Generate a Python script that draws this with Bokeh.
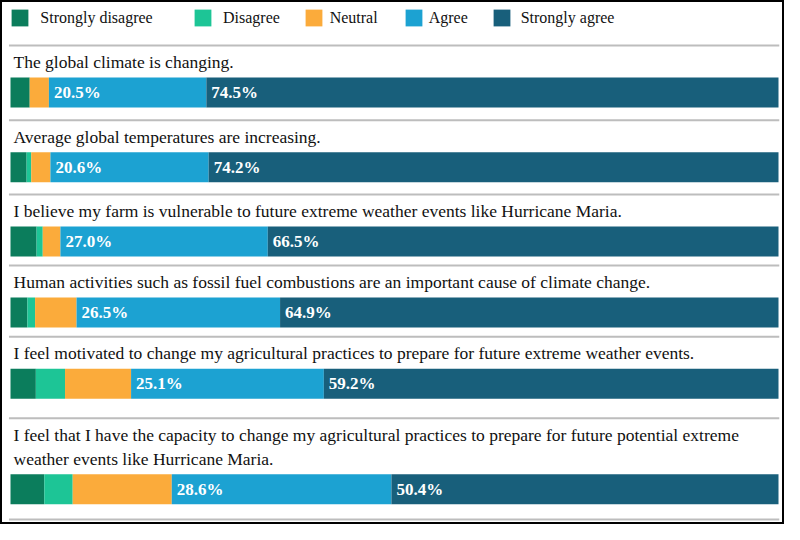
from bokeh.plotting import figure
from bokeh.models import ColumnDataSource, Range1d, Legend, LegendItem
from bokeh.core.properties import value
from bokeh.embed import file_html
from bokeh.resources import INLINE

# ---------------- data ----------------
questions = [
    "The global climate is changing.",
    "Average global temperatures are increasing.",
    "I believe my farm is vulnerable to future extreme weather events like Hurricane Maria.",
    "Human activities such as fossil fuel combustions are an important cause of climate change.",
    "I feel motivated to change my agricultural practices to prepare for future extreme weather events.",
    "I feel that I have the capacity to change my agricultural practices to prepare for future potential extreme\nweather events like Hurricane Maria.",
]
categories = ["Strongly disagree", "Disagree", "Neutral", "Agree", "Strongly agree"]
strongly_disagree = [2.5, 2.1, 3.4, 2.2, 3.3, 4.4]
disagree = [0.0, 0.6, 0.8, 1.0, 3.8, 3.7]
neutral = [2.5, 2.5, 2.3, 5.4, 8.6, 12.9]
agree = [20.5, 20.6, 27.0, 26.5, 25.1, 28.6]
strongly_agree = [74.5, 74.2, 66.5, 64.9, 59.2, 50.4]
colors = ["#0b7d5c", "#1dc596", "#fbab3b", "#1ca2d2", "#185f7b"]

# ---------------- layout (pixels) ----------------
W, H = 784, 524
seps = [45, 119.8, 194.1, 264.9, 336.2, 417.8, 519]
TEXT_OFF, LINE_H, BAR_OFF, BAR_H = 16.5, 24, 15.5, 30

px_per_pct = 7.68
x_start = -10 / px_per_pct
x_end = x_start + W / px_per_pct

bar_y, txt_x, txt_y, txt = [], [], [], []
for i, q in enumerate(questions):
    lines = q.split("\n")
    for j, ln in enumerate(lines):
        txt_x.append(0.0)
        txt_y.append(seps[i] + TEXT_OFF + j * LINE_H)
        txt.append(ln)
    last = seps[i] + TEXT_OFF + (len(lines) - 1) * LINE_H
    bar_y.append(last + BAR_OFF + BAR_H / 2)

fields = ["sd", "d", "n", "a", "sa"]
src = ColumnDataSource(dict(y=bar_y, sd=strongly_disagree, d=disagree,
                            n=neutral, a=agree, sa=strongly_agree))

p = figure(width=W, height=H, output_backend="svg", toolbar_location=None,
           x_range=Range1d(x_start, x_end), y_range=Range1d(H, 0),
           x_axis_location=None, y_axis_location=None, min_border=0,
           background_fill_color="white", border_fill_color="white")
p.grid.visible = False
p.outline_line_color = "black"
p.outline_line_width = 3

# separators
p.segment(x0=[-0.2] * len(seps), x1=[100.1] * len(seps), y0=seps, y1=seps,
          line_color="#bdbdbd", line_width=2)

# bars
rends = p.hbar_stack(fields, y="y", height=BAR_H, color=colors, line_color=None,
                     source=src)

# question texts
p.text(x=txt_x, y=txt_y, text=txt, x_offset=3, text_baseline="middle",
       text_align="left", text_font=value("Liberation Serif"),
       text_font_size="17.5px", text_color="#111111")

# value labels for Agree and Strongly agree
lab_x, lab_y, lab_t = [], [], []
for i in range(len(questions)):
    a0 = strongly_disagree[i] + disagree[i] + neutral[i]
    lab_x += [a0, a0 + agree[i]]
    lab_y += [bar_y[i], bar_y[i]]
    lab_t += [f"{agree[i]:.1f}%", f"{strongly_agree[i]:.1f}%"]
p.text(x=lab_x, y=lab_y, text=lab_t, x_offset=5, text_baseline="middle",
       text_align="left", text_font=value("Liberation Serif"),
       text_font_style="bold", text_font_size="17px", text_color="white")

# legend (one entry per category, placed along the top)
leg_x = [9.3, 192, 302.7, 402.7, 490.7]
leg_standoff = [10, 10, 6, 5, 9]
for i, cat in enumerate(categories):
    leg = Legend(items=[LegendItem(label=cat, renderers=[rends[i]])],
                 location=(leg_x[i], H - 28.3), orientation="horizontal",
                 glyph_width=21, glyph_height=21, label_standoff=leg_standoff[i],
                 padding=0, margin=0, border_line_color=None,
                 background_fill_alpha=0, label_text_font="Liberation Serif",
                 label_text_font_size="16px", label_text_color="#111111")
    p.add_layout(leg)

open("out.html", "w").write(file_html(p, INLINE))
